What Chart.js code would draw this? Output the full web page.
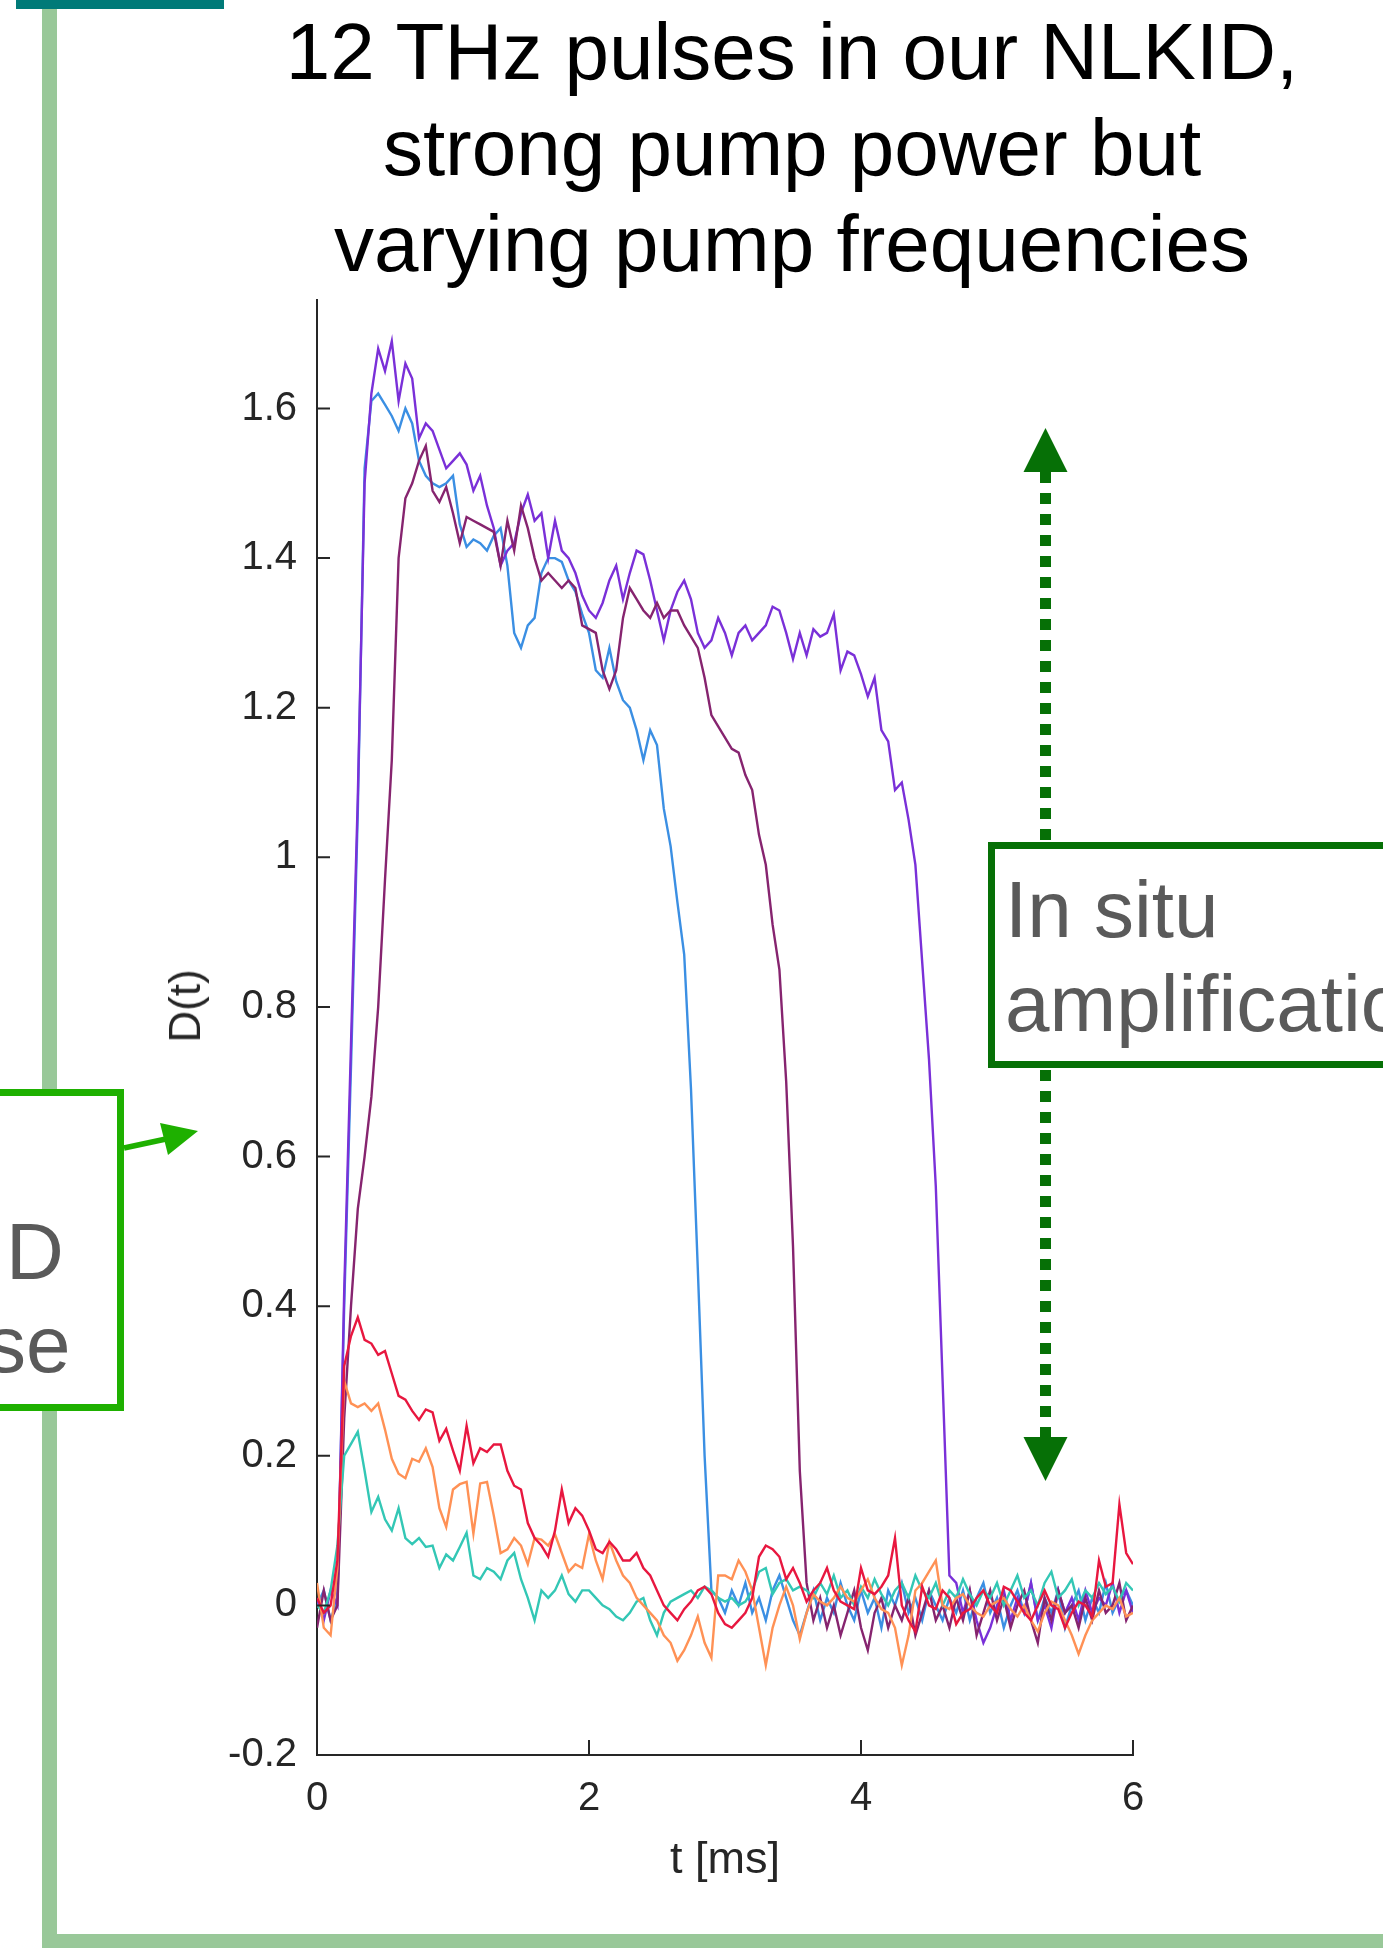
<!DOCTYPE html>
<html>
<head>
<meta charset="utf-8">
<script src="https://cdn.jsdelivr.net/npm/chart.js@4.4.0/dist/chart.umd.min.js"></script>
<style>
  body {
    margin: 0;
    width: 1383px;
    height: 1959px;
    overflow: hidden;
    position: relative;
    background: #fff;
    font-family: "Liberation Sans", Arial, Helvetica, sans-serif;
  }
  #pulseChart { position: absolute; left: 0; top: 0; }
  .frame { position: absolute; background: #99C899; }
  .tab { position: absolute; left: 16px; top: 0; width: 208px; height: 9px; background: #007A78; }
  .title {
    position: absolute; left: 192px; top: 4px; width: 1200px;
    text-align: center; font-size: 80px; line-height: 96px; color: #000; white-space: nowrap;
  }
  .ylabel {
    position: absolute; left: 185px; top: 1006px;
    transform: translate(-50%, -50%) rotate(-90deg);
    font-size: 44px; line-height: 1; color: #262626; white-space: nowrap;
  }
  .box { position: absolute; background: #fff; }
  .note { position: absolute; color: #5A5A5A; white-space: nowrap; }
  svg { position: absolute; left: 0; top: 0; }
</style>
</head>
<body>
<canvas id="pulseChart" width="1383" height="1959"></canvas>

<div class="frame" style="left:42px; top:0; width:15px; height:1948px;"></div>
<div class="frame" style="left:42px; top:1934px; width:1341px; height:14px;"></div>
<div class="tab"></div>

<div class="title">12 THz pulses in our NLKID,<br>strong pump power but<br>varying pump frequencies</div>
<div class="ylabel">D(t)</div>

<!-- left callout (cut off by the page edge) -->
<div class="box" style="left:-20px; top:1089px; width:130px; height:308px; border:7px solid #1EB000;"></div>
<div class="note" style="left:6px; top:1205px; font-size:80px; line-height:94px;">D</div>
<div class="note" style="left:-14px; top:1298px; font-size:80px; line-height:94px;">se</div>

<!-- right callout -->
<div class="box" style="left:988px; top:842px; width:600px; height:212px; border:7px solid #067006;"></div>
<div class="note" style="left:1005px; top:863px; font-size:80px; line-height:94px;">In situ<br>amplification</div>

<svg width="1383" height="1959">
  <line x1="124" y1="1148" x2="166" y2="1139" stroke="#1EB000" stroke-width="5.5"/>
  <polygon points="198,1131 160,1123 168,1155" fill="#1EB000"/>
  <line x1="1045.5" y1="472" x2="1045.5" y2="842" stroke="#067006" stroke-width="11" stroke-dasharray="11 10"/>
  <polygon points="1045.5,428 1023.5,472 1067.5,472" fill="#067006"/>
  <line x1="1045.5" y1="1070" x2="1045.5" y2="1437" stroke="#067006" stroke-width="11" stroke-dasharray="11 10"/>
  <polygon points="1045.5,1481 1023.5,1437 1067.5,1437" fill="#067006"/>
</svg>

<script>
// time axis (ms)
const tMs = [
  0.00, 0.05, 0.10, 0.15, 0.20, 0.25, 0.30, 0.35, 0.40, 0.45,
  0.50, 0.55, 0.60, 0.65, 0.70, 0.75, 0.80, 0.85, 0.90, 0.95,
  1.00, 1.05, 1.10, 1.15, 1.20, 1.25, 1.30, 1.35, 1.40, 1.45,
  1.50, 1.55, 1.60, 1.65, 1.70, 1.75, 1.80, 1.85, 1.90, 1.95,
  2.00, 2.05, 2.10, 2.15, 2.20, 2.25, 2.30, 2.35, 2.40, 2.45,
  2.50, 2.55, 2.60, 2.65, 2.70, 2.75, 2.80, 2.85, 2.90, 2.95,
  3.00, 3.05, 3.10, 3.15, 3.20, 3.25, 3.30, 3.35, 3.40, 3.45,
  3.50, 3.55, 3.60, 3.65, 3.70, 3.75, 3.80, 3.85, 3.90, 3.95,
  4.00, 4.05, 4.10, 4.15, 4.20, 4.25, 4.30, 4.35, 4.40, 4.45,
  4.50, 4.55, 4.60, 4.65, 4.70, 4.75, 4.80, 4.85, 4.90, 4.95,
  5.00, 5.05, 5.10, 5.15, 5.20, 5.25, 5.30, 5.35, 5.40, 5.45,
  5.50, 5.55, 5.60, 5.65, 5.70, 5.75, 5.80, 5.85, 5.90, 5.95,
  6.00
];

// D(t) per pump frequency
const dPurple = [
  0.01, -0.02, 0.02, 0.00, 0.42, 0.75, 1.08, 1.50, 1.62, 1.68,
  1.65, 1.69, 1.61, 1.66, 1.64, 1.56, 1.58, 1.57, 1.545, 1.52,
  1.53, 1.54, 1.525, 1.49, 1.51, 1.47, 1.44, 1.39, 1.41, 1.42,
  1.46, 1.485, 1.45, 1.46, 1.40, 1.45, 1.41, 1.40, 1.38, 1.35,
  1.33, 1.32, 1.34, 1.37, 1.39, 1.345, 1.38, 1.41, 1.405, 1.37,
  1.33, 1.29, 1.33, 1.355, 1.37, 1.345, 1.30, 1.28, 1.29, 1.32,
  1.30, 1.27, 1.30, 1.31, 1.29, 1.30, 1.31, 1.335, 1.33, 1.30,
  1.265, 1.30, 1.27, 1.305, 1.295, 1.30, 1.325, 1.25, 1.275, 1.27,
  1.245, 1.215, 1.24, 1.17, 1.155, 1.09, 1.10, 1.05, 0.99, 0.86,
  0.73, 0.56, 0.30, 0.04, 0.03, -0.01, 0.02, -0.02, -0.05, -0.03,
  0.00, 0.02, -0.02, 0.01, -0.01, 0.03, -0.02, 0.00, -0.03, 0.02,
  -0.01, 0.01, -0.02, 0.02, -0.01, 0.01, 0.00, 0.03, -0.01, 0.02,
  -0.01
];
const dBlue = [
  0.00, 0.02, -0.02, 0.01, 0.40, 0.72, 1.06, 1.52, 1.61, 1.62,
  1.605, 1.59, 1.57, 1.60, 1.58, 1.53, 1.51, 1.50, 1.495, 1.50,
  1.51, 1.445, 1.415, 1.425, 1.42, 1.41, 1.43, 1.44, 1.39, 1.30,
  1.28, 1.31, 1.32, 1.38, 1.40, 1.40, 1.395, 1.37, 1.355, 1.325,
  1.30, 1.25, 1.24, 1.28, 1.235, 1.21, 1.20, 1.17, 1.13, 1.17,
  1.15, 1.065, 1.015, 0.94, 0.87, 0.69, 0.45, 0.20, 0.02, 0.01,
  -0.01, 0.02, 0.00, 0.03, -0.01, 0.01, -0.02, 0.02, 0.04, 0.01,
  -0.02, -0.04, -0.01, 0.02, -0.02, 0.01, -0.01, 0.03, 0.00, -0.02,
  0.02, -0.01, 0.01, -0.03, 0.02, 0.00, 0.03, -0.01, 0.01, -0.02,
  0.02, 0.00, -0.02, 0.01, -0.01, 0.02, -0.02, 0.01, 0.03, -0.01,
  0.01, -0.03, 0.00, 0.02, -0.01, 0.03, -0.02, 0.01, -0.01, 0.02,
  -0.03, 0.00, 0.02, -0.02, 0.01, -0.01, 0.03, -0.01, 0.01, 0.02,
  0.00
];
const dPlum = [
  -0.03, 0.02, -0.02, 0.00, 0.25, 0.40, 0.53, 0.60, 0.68, 0.80,
  0.97, 1.13, 1.40, 1.48, 1.50, 1.53, 1.55, 1.49, 1.475, 1.495,
  1.46, 1.42, 1.455, 1.45, 1.445, 1.44, 1.435, 1.39, 1.45, 1.41,
  1.47, 1.44, 1.40, 1.37, 1.38, 1.37, 1.36, 1.37, 1.36, 1.31,
  1.305, 1.30, 1.25, 1.225, 1.25, 1.32, 1.36, 1.345, 1.33, 1.32,
  1.34, 1.32, 1.33, 1.33, 1.31, 1.295, 1.28, 1.24, 1.19, 1.175,
  1.16, 1.145, 1.14, 1.11, 1.09, 1.03, 0.99, 0.91, 0.85, 0.70,
  0.48, 0.18, 0.03, -0.02, 0.01, -0.03, 0.00, -0.04, -0.01, 0.02,
  -0.03, -0.06, -0.01, 0.01, -0.03, 0.00, -0.02, 0.01, -0.04, -0.01,
  0.02, -0.02, 0.00, -0.03, 0.01, -0.02, 0.02, -0.04, -0.01, 0.02,
  -0.02, 0.01, -0.03, 0.00, 0.02, -0.02, -0.05, 0.01, -0.02, 0.02,
  -0.01, 0.00, -0.03, 0.01, -0.02, 0.02, -0.01, 0.00, 0.03, -0.02,
  0.00
];
const dRed = [
  0.01, -0.01, 0.00, 0.06, 0.32, 0.36, 0.385, 0.355, 0.35, 0.335,
  0.34, 0.31, 0.28, 0.275, 0.26, 0.248, 0.262, 0.258, 0.22, 0.236,
  0.207, 0.18, 0.24, 0.19, 0.21, 0.205, 0.215, 0.215, 0.18, 0.16,
  0.155, 0.11, 0.09, 0.08, 0.065, 0.10, 0.155, 0.11, 0.13, 0.12,
  0.10, 0.075, 0.07, 0.085, 0.075, 0.06, 0.06, 0.07, 0.05, 0.04,
  0.02, 0.00, -0.01, -0.02, -0.005, 0.005, 0.02, 0.025, 0.015, -0.01,
  -0.025, -0.03, -0.02, -0.01, 0.01, 0.065, 0.08, 0.075, 0.065, 0.035,
  0.05, 0.03, 0.005, 0.02, 0.03, 0.05, 0.02, 0.005, 0.00, -0.005,
  0.05, 0.02, 0.015, 0.025, 0.04, 0.09, 0.00, -0.02, -0.035, 0.025,
  0.00, -0.005, 0.02, 0.01, -0.025, -0.01, -0.005, 0.01, 0.02, 0.00,
  -0.01, 0.025, 0.02, 0.005, -0.01, -0.02, 0.00, 0.02, 0.00, -0.005,
  -0.03, -0.01, 0.005, 0.00, -0.015, 0.06, 0.025, 0.03, 0.135, 0.07,
  0.055
];
const dOrange = [
  0.03, -0.03, -0.04, 0.05, 0.30, 0.27, 0.265, 0.27, 0.26, 0.27,
  0.235, 0.196, 0.176, 0.17, 0.196, 0.192, 0.21, 0.185, 0.13, 0.105,
  0.155, 0.162, 0.165, 0.096, 0.163, 0.165, 0.12, 0.07, 0.075, 0.09,
  0.08, 0.055, 0.09, 0.088, 0.08, 0.095, 0.07, 0.045, 0.055, 0.05,
  0.095, 0.06, 0.035, 0.085, 0.06, 0.04, 0.03, 0.01, 0.00, -0.01,
  -0.02, -0.04, -0.05, -0.074, -0.06, -0.04, -0.015, -0.05, -0.07, 0.04,
  0.04, 0.035, 0.06, 0.045, 0.02, -0.03, -0.08, -0.03, 0.00, 0.025,
  0.00, -0.045, -0.01, 0.015, 0.005, 0.00, 0.01, 0.025, 0.01, 0.005,
  0.02, 0.035, 0.01, -0.005, -0.01, -0.03, -0.08, -0.04, 0.02, 0.03,
  0.045, 0.06, 0.00, -0.005, 0.01, 0.015, 0.00, -0.01, -0.015, 0.00,
  0.005, 0.01, -0.005, -0.015, 0.00, -0.02, -0.035, -0.01, 0.005, 0.00,
  -0.02, -0.04, -0.065, -0.04, -0.02, -0.01, 0.00, -0.005, 0.01, -0.015,
  -0.01
];
const dTeal = [
  0.00, -0.01, 0.02, 0.08, 0.20, 0.216, 0.232, 0.18, 0.125, 0.145,
  0.115, 0.10, 0.13, 0.09, 0.082, 0.09, 0.078, 0.08, 0.05, 0.068,
  0.06, 0.078, 0.097, 0.04, 0.035, 0.05, 0.045, 0.035, 0.06, 0.07,
  0.035, 0.01, -0.02, 0.02, 0.01, 0.02, 0.04, 0.015, 0.005, 0.02,
  0.02, 0.01, 0.00, -0.005, -0.015, -0.02, -0.01, 0.005, 0.01, -0.02,
  -0.04, -0.01, 0.005, 0.01, 0.015, 0.02, 0.01, 0.025, 0.02, 0.01,
  0.005, 0.01, 0.00, 0.005, 0.02, 0.045, 0.05, 0.015, 0.03, 0.035,
  0.02, 0.025, 0.02, 0.01, 0.03, 0.015, 0.04, 0.01, 0.02, 0.00,
  0.025, 0.01, 0.035, 0.015, 0.00, 0.02, 0.03, 0.01, 0.04, 0.02,
  0.01, 0.03, 0.00, 0.02, 0.01, 0.035, 0.015, 0.00, 0.02, 0.01,
  0.03, 0.00, 0.02, 0.04, 0.01, 0.02, 0.00, 0.03, 0.045, 0.01,
  0.02, 0.035, 0.00, 0.02, 0.01, 0.03, 0.015, 0.025, 0.005, 0.03,
  0.02
];

// axis ticks
const xTicks = [0, 2, 4, 6];
const xTickLabels = ['0', '2', '4', '6'];
const yTicks = [-0.2, 0, 0.2, 0.4, 0.6, 0.8, 1, 1.2, 1.4, 1.6];
const yTickLabels = ['-0.2', '0', '0.2', '0.4', '0.6', '0.8', '1', '1.2', '1.4', '1.6'];

const axisColor = '#262626';
const fontFamily = '"Liberation Sans", Arial, Helvetica, sans-serif';

function toPoints(values) {
    return values.map((v, i) => ({ x: tMs[i], y: v }));
}

function makeSet(label, values, color) {
    return {
        label: label,
        data: toPoints(values),
        borderColor: color,
        borderWidth: 2.4,
        pointRadius: 0,
        tension: 0,
        fill: false
    };
}

// MATLAB style ticks pointing into the plot
const insideTicks = {
    id: 'insideTicks',
    afterDraw(chart) {
        const { ctx, chartArea } = chart;
        const xs = chart.scales.x;
        const ys = chart.scales.y;
        ctx.save();
        ctx.strokeStyle = axisColor;
        ctx.lineWidth = 2;
        ctx.beginPath();
        yTicks.forEach(v => {
            const py = ys.getPixelForValue(v);
            ctx.moveTo(chartArea.left, py);
            ctx.lineTo(chartArea.left + 13, py);
        });
        xTicks.forEach(v => {
            const px = xs.getPixelForValue(v);
            ctx.moveTo(px, chartArea.bottom);
            ctx.lineTo(px, chartArea.bottom - 15);
        });
        ctx.stroke();
        ctx.restore();
    }
};

const ctx = document.getElementById('pulseChart').getContext('2d');
const pulseChart = new Chart(ctx, {
    type: 'line',
    data: {
        datasets: [
            makeSet('red', dRed, '#E8173F'),
            makeSet('orange', dOrange, '#FF9155'),
            makeSet('teal', dTeal, '#33C7B5'),
            makeSet('plum', dPlum, '#86246F'),
            makeSet('purple', dPurple, '#7A30D8'),
            makeSet('blue', dBlue, '#3B8FE3')
        ]
    },
    options: {
        responsive: false,
        animation: false,
        devicePixelRatio: 1,
        layout: { padding: { top: 300, right: 250, bottom: 0, left: 0 } },
        plugins: {
            legend: { display: false },
            tooltip: { enabled: false },
            title: { display: false }
        },
        scales: {
            x: {
                type: 'linear',
                min: 0,
                max: 6,
                grid: { display: false, drawTicks: false },
                border: { display: true, color: axisColor, width: 2 },
                afterBuildTicks: s => { s.ticks = xTicks.map(v => ({ value: v })); },
                afterFit: s => { s.height = 204; },
                ticks: {
                    autoSkip: false,
                    maxRotation: 0,
                    padding: 20,
                    color: axisColor,
                    font: { family: fontFamily, size: 40 },
                    callback: v => xTickLabels[xTicks.indexOf(v)]
                },
                title: {
                    display: true,
                    text: 't [ms]',
                    color: axisColor,
                    font: { family: fontFamily, size: 45 },
                    padding: { top: 0, bottom: 71 }
                }
            },
            y: {
                type: 'linear',
                min: -0.2,
                max: 1.745,
                grid: { display: false, drawTicks: false },
                border: { display: true, color: axisColor, width: 2 },
                afterBuildTicks: s => { s.ticks = yTicks.map(v => ({ value: v })); },
                afterFit: s => { s.width = 317; },
                ticks: {
                    autoSkip: false,
                    padding: 20,
                    color: axisColor,
                    font: { family: fontFamily, size: 40 },
                    callback: v => yTickLabels[yTicks.indexOf(v)]
                }
            }
        }
    },
    plugins: [insideTicks]
});
</script>
</body>
</html>
